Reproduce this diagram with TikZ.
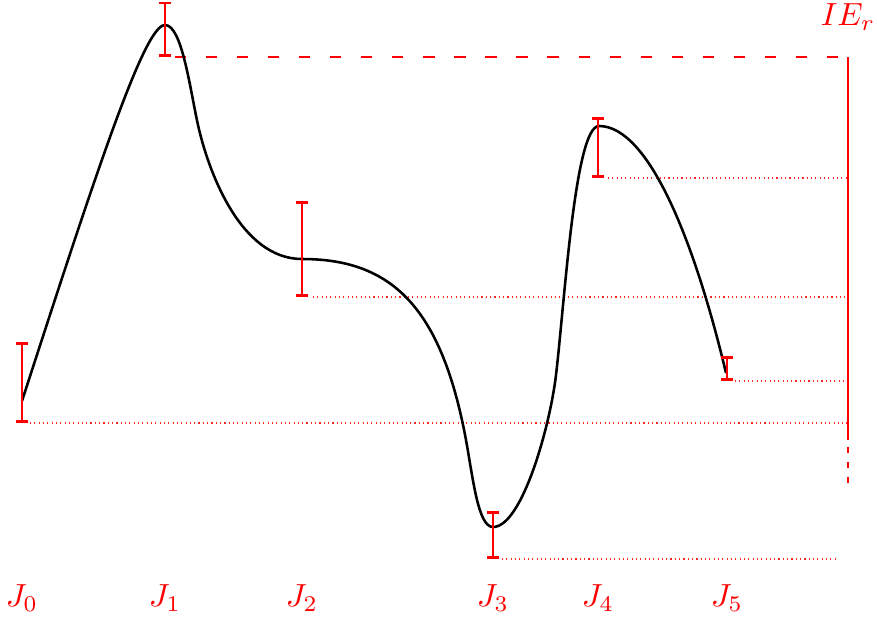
\documentclass[tikz,border=0pt]{standalone}
\usetikzlibrary{arrows.meta}
\begin{document}
\begin{tikzpicture}[x=0.3125pt,y=-0.3125pt,
  curve/.style={line width=0.8pt, black, line join=round},
  ebar/.style={red, line width=0.9pt, {Bar[width=3.8pt]}-{Bar[width=3.8pt]}},
  guide/.style={red!85, line width=0.35pt, densely dotted},
  topdash/.style={red, line width=0.9pt, dash pattern=on 3.5pt off 6.2pt},
  ieline/.style={red, line width=0.9pt},
  lbl/.style={text=red, inner sep=0pt}]
\useasboundingbox (0,0) rectangle (877,620);

% reference guide lines
\draw[guide] (30,423) -- (848,423);
\draw[guide] (313,297) -- (848,297);
\draw[guide] (502,559) -- (838,559);
\draw[guide] (608,178) -- (848,178);
\draw[guide] (735,381) -- (848,381);
\draw[topdash] (175,57) -- (848,57);

% IE_r scale
\coordinate (st) at (848,57);
\coordinate (sm) at (848,440);
\coordinate (sd) at (848,447);
\coordinate (sb) at (848,485);
\draw[ieline] (st) -- (sm);
\draw[ieline, dash pattern=on 1.9pt off 2.8pt] (sd) -- (sb);
\node[lbl] (ie) at (848,17) {$IE_r$};

% curve
\coordinate (p0) at (22,401);
\coordinate (p1) at (165,25);
\coordinate (i1) at (198,125);
\coordinate (p2) at (302,259);
\coordinate (i2) at (466,440);
\coordinate (p3) at (493,527);
\coordinate (i3) at (556,375);
\coordinate (p4) at (599,126);
\coordinate (p5) at (726,373);
\draw[curve] (p0) .. controls (100,160) and (145,25) .. (p1)
  .. controls (182,25) and (190,89) .. (i1)
  .. controls (208,170) and (240,259) .. (p2)
  .. controls (390,259) and (441,305) .. (i2)
  .. controls (473,478) and (478,527) .. (p3)
  .. controls (522,527) and (550,426) .. (i3)
  .. controls (565,298.5) and (575,126) .. (p4)
  .. controls (650,126) and (696,247) .. (p5);

% error bars
\draw[ebar] (22,342) -- (22,423);
\draw[ebar] (165,1.5) -- (165,57);
\draw[ebar] (302,201) -- (302,297);
\draw[ebar] (493,511) -- (493,559);
\draw[ebar] (598,117) -- (598,178);
\draw[ebar] (727,356) -- (727,381);

% labels
\node[lbl] (j0) at (22,598) {$J_0$};
\node[lbl] (j1) at (165,598) {$J_1$};
\node[lbl] (j2) at (302,598) {$J_2$};
\node[lbl] (j3) at (493,598) {$J_3$};
\node[lbl] (j4) at (598,598) {$J_4$};
\node[lbl] (j5) at (727,598) {$J_5$};
\end{tikzpicture}
\end{document}
